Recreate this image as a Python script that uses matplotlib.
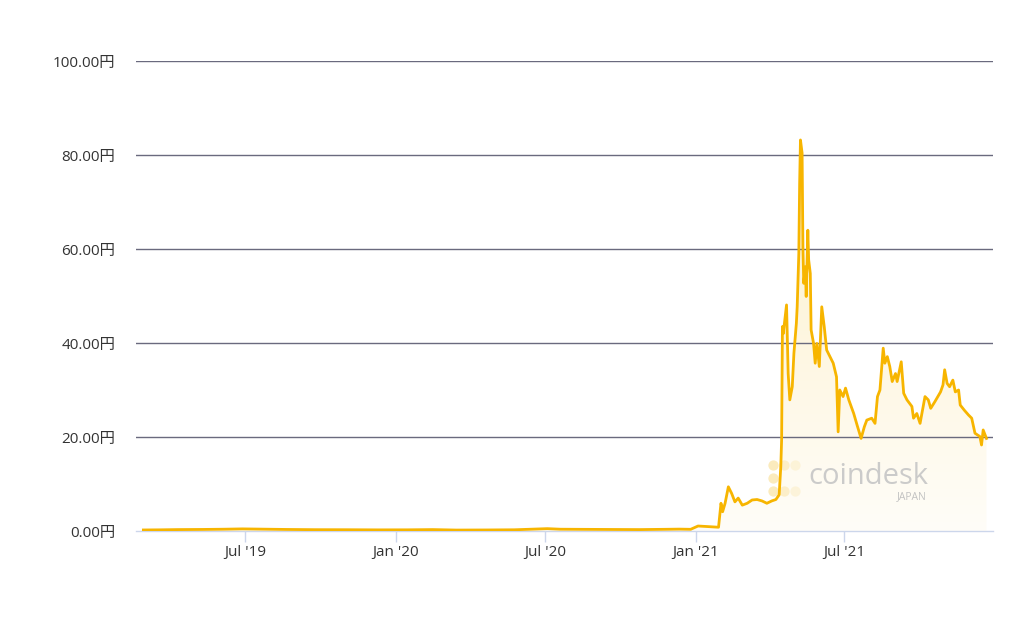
import numpy as np
import pandas as pd
import matplotlib
matplotlib.use('Agg')
import matplotlib.pyplot as plt
import matplotlib.dates as mdates
from matplotlib.patches import Polygon

plt.rcParams['font.family'] = ['Open Sans', 'Noto Sans CJK JP', 'DejaVu Sans']

# price of DOGE in JPY
dates = [
    '2019-02-27', '2019-03-20', '2019-04-10', '2019-05-10', '2019-06-05', '2019-06-28',
    '2019-07-20', '2019-08-20', '2019-09-25', '2019-11-01', '2019-12-10', '2020-01-15',
    '2020-02-15', '2020-03-15', '2020-04-20', '2020-05-25', '2020-07-04', '2020-07-20',
    '2020-08-20', '2020-09-25', '2020-10-25', '2020-11-25', '2020-12-12', '2020-12-26',
    '2021-01-04', '2021-01-15', '2021-01-29', '2021-02-01', '2021-02-03', '2021-02-06',
    '2021-02-10', '2021-02-14', '2021-02-18', '2021-02-22', '2021-02-27', '2021-03-05',
    '2021-03-11', '2021-03-17', '2021-03-23', '2021-03-29', '2021-04-04', '2021-04-09',
    '2021-04-13', '2021-04-15', '2021-04-16', '2021-04-17', '2021-04-18', '2021-04-22',
    '2021-04-24', '2021-04-26', '2021-04-29', '2021-05-01', '2021-05-04', '2021-05-05',
    '2021-05-07', '2021-05-08', '2021-05-09', '2021-05-11', '2021-05-12', '2021-05-13',
    '2021-05-15', '2021-05-16', '2021-05-18', '2021-05-19', '2021-05-21', '2021-05-22',
    '2021-05-25', '2021-05-27', '2021-05-29', '2021-06-01', '2021-06-04', '2021-06-07',
    '2021-06-10', '2021-06-14', '2021-06-18', '2021-06-22', '2021-06-24', '2021-06-26',
    '2021-06-30', '2021-07-03', '2021-07-07', '2021-07-13', '2021-07-17', '2021-07-22',
    '2021-07-26', '2021-07-29', '2021-08-04', '2021-08-08', '2021-08-11', '2021-08-14',
    '2021-08-18', '2021-08-20', '2021-08-23', '2021-08-26', '2021-08-29', '2021-09-02',
    '2021-09-04', '2021-09-09', '2021-09-12', '2021-09-16', '2021-09-22', '2021-09-24',
    '2021-09-28', '2021-10-02', '2021-10-08', '2021-10-12', '2021-10-15', '2021-10-20',
    '2021-10-27', '2021-10-30', '2021-11-01', '2021-11-04', '2021-11-07', '2021-11-11',
    '2021-11-14', '2021-11-18', '2021-11-20', '2021-11-25', '2021-11-30', '2021-12-04',
    '2021-12-08', '2021-12-14', '2021-12-16', '2021-12-18', '2021-12-22',
]
prices = [
    0.22, 0.25, 0.30, 0.33, 0.38, 0.45,
    0.40, 0.33, 0.28, 0.27, 0.24, 0.25,
    0.30, 0.20, 0.22, 0.26, 0.50, 0.38,
    0.35, 0.32, 0.30, 0.36, 0.40, 0.36,
    1.06, 0.95, 0.80, 5.9, 4.1, 5.9,
    9.4, 8.0, 6.2, 7.0, 5.5, 5.9,
    6.6, 6.7, 6.4, 5.9, 6.4, 6.7,
    7.7, 13.7, 19.4, 43.5, 42.0, 48.1,
    33.5, 27.9, 30.7, 37.8, 44.2, 47.7,
    59.1, 74.0, 83.2, 80.4, 60.5, 52.7,
    56.2, 49.9, 64.0, 57.7, 54.8, 42.8,
    39.9, 35.7, 39.9, 35.0, 47.7, 43.5,
    38.5, 37.1, 35.7, 32.8, 21.1, 30.0,
    28.6, 30.4, 27.9, 25.0, 22.6, 19.7,
    22.2, 23.6, 24.0, 22.9, 28.6, 30.0,
    38.9, 35.7, 37.1, 35.0, 31.8, 33.5,
    31.8, 36.0, 29.3, 27.9, 26.5, 24.0,
    25.0, 22.9, 28.6, 27.9, 26.1, 27.5,
    29.6, 31.1, 34.3, 31.4, 30.7, 32.1,
    29.6, 30.0, 26.8, 25.7, 24.7, 24.0,
    20.8, 20.1, 18.3, 21.5, 19.7,
]
y_ticks = [0, 20, 40, 60, 80, 100]
x_ticks = ['2019-07-01', '2020-01-01', '2020-07-01', '2021-01-01', '2021-07-01']
x_labels = ["Jul '19", "Jan '20", "Jul '20", "Jan '21", "Jul '21"]

LINE = '#F7B500'
GRID = '#6a6a7e'
AXIS = '#ccd6eb'
TEXT = '#333333'

x = mdates.date2num(pd.to_datetime(dates))
y = np.array(prices)

fig = plt.figure(figsize=(10.24, 6.43), dpi=100)
ax = fig.add_axes([136 / 1024, 1 - 531 / 643, (993 - 136) / 1024, (531 - 61) / 643])

ax.set_xlim(mdates.date2num(pd.Timestamp('2019-02-18')),
            mdates.date2num(pd.Timestamp('2021-12-30')))
ax.set_ylim(0, 100)

# gradient area under the line
grad = np.linspace(0, 1, 256).reshape(-1, 1)
cmap = matplotlib.colors.LinearSegmentedColormap.from_list(
    'fade', ['#fffdf8', '#fdf0c9'])
img = ax.imshow(grad, extent=[x[0], x[-1], 0, y.max()], origin='lower',
                aspect='auto', cmap=cmap, zorder=1)
verts = np.vstack([np.column_stack([x, y]), [[x[-1], 0], [x[0], 0]]])
poly = Polygon(verts, closed=True, facecolor='none', edgecolor='none')
ax.add_patch(poly)
img.set_clip_path(poly)

for t in y_ticks[1:]:
    ax.axhline(t, color=GRID, lw=1, zorder=2)

ax.plot(x, y, color=LINE, lw=2, zorder=4)

# watermark
ax.text(0.854, 0.117, 'coindesk', transform=ax.transAxes, fontsize=21,
        color='#c6c6c6', alpha=0.9, ha='center', va='center', zorder=3)
ax.text(0.923, 0.073, 'JAPAN', transform=ax.transAxes, fontsize=7.5,
        color='#c2c2c2', ha='right', va='center', zorder=3)
for i, j, a in [(0, 0, 0.8), (0, 1, 0.8), (0, 2, 0.8), (1, 0, 0.6), (1, 2, 0.6),
                (2, 0, 0.35), (2, 2, 0.35)]:
    ax.scatter(0.743 + i * 0.0128, 0.085 + j * 0.0275, s=55, color='#fbe6ad',
               alpha=a, transform=ax.transAxes, zorder=3, lw=0)

for s in ['top', 'right', 'left']:
    ax.spines[s].set_visible(False)
ax.spines['bottom'].set_color(AXIS)
ax.spines['bottom'].set_linewidth(1)

ax.set_yticks(y_ticks)
ax.set_yticklabels([f'{v:.2f}円' for v in y_ticks])
ax.tick_params(axis='y', length=0, pad=15, labelsize=11, labelcolor=TEXT)

ax.set_xticks(mdates.date2num(pd.to_datetime(x_ticks)))
ax.set_xticklabels(x_labels)
ax.tick_params(axis='x', length=8, width=1, color=AXIS, pad=2,
               labelsize=11, labelcolor=TEXT)

fig.savefig('out.png', dpi=100, facecolor='white')
